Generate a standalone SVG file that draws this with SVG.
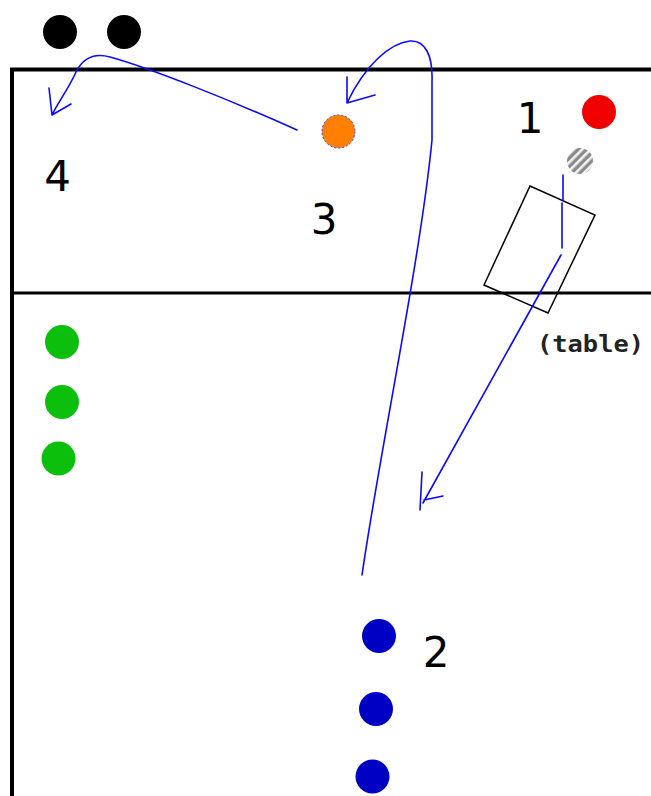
<svg xmlns="http://www.w3.org/2000/svg" width="651" height="796" viewBox="0 0 651 796">
  <style>
    .court { stroke: #000; fill: none; }
    .move { stroke: #0a0aff; stroke-width: 1.6; fill: none; stroke-linecap: round; stroke-linejoin: round; }
    .num { font-family: "DejaVu Sans", sans-serif; font-size: 42px; fill: #000; text-anchor: middle; }
    .lbl { font-family: "DejaVu Sans Mono", monospace; font-size: 23px; font-weight: bold; fill: #222; }
    .black { fill: #000; }
    .green { fill: #0cbf0c; }
    .blue { fill: #0000c4; }
  </style>
  <defs>
    <pattern id="stripes" width="6" height="6" patternUnits="userSpaceOnUse" patternTransform="rotate(-45)">
      <rect width="6" height="6" fill="#8a8a8a"/>
      <rect width="6" height="2.6" fill="#f4f4f4"/>
    </pattern>
  </defs>

  <rect width="651" height="796" fill="#fff"/>

  <g id="court">
    <path class="court" d="M12,796 L12,69.5 L651,69.5" stroke-width="4"/>
    <line class="court" x1="12" y1="293" x2="651" y2="293" stroke-width="3"/>
  </g>

  <g id="table">
    <polygon points="530,186 595,215 548,313 484,285" fill="none" stroke="#000" stroke-width="1.5"/>
    <text class="lbl" x="537" y="352" textLength="107" lengthAdjust="spacingAndGlyphs">(table)</text>
  </g>

  <g id="connectors">
    <path class="move" d="M563,175 L563,200 M562,203 L562,248"/>
    <path class="move" d="M561,255 L423,503 M422,472 L420,510 M424,500 L443,496"/>
    <path class="move" d="M362,575 C380,450 420,262 432,140 L432,82 C433,55 425,40 410,41 C390,43 365,65 347,103 M347,77 L347,103 L375,95"/>
    <path class="move" d="M297,130 C230,100 150,68 110,57 C92,52 82,60 76,72 C68,90 58,102 52,115 M49,88 L52,115 L71,104"/>
  </g>

  <g id="player-4-a"><circle class="black" cx="60" cy="32" r="17"/></g>
  <g id="player-4-b"><circle class="black" cx="124" cy="32" r="17"/></g>
  <g id="label-4"><text class="num" x="57.5" y="191">4</text></g>

  <g id="player-3"><circle cx="338.5" cy="131.5" r="16.5" fill="#ff8000" stroke="#3a3aff" stroke-width="1" stroke-dasharray="2 2"/></g>
  <g id="label-3"><text class="num" x="324" y="234">3</text></g>

  <g id="player-1"><circle cx="599" cy="112" r="17" fill="#f00000"/></g>
  <g id="label-1"><text class="num" x="530" y="133">1</text></g>
  <g id="ball"><circle cx="580" cy="161" r="13" fill="url(#stripes)"/></g>

  <g id="team-green">
    <circle class="green" cx="62" cy="342" r="17"/>
    <circle class="green" cx="62" cy="402" r="17"/>
    <circle class="green" cx="58.5" cy="458.5" r="17"/>
  </g>

  <g id="team-blue">
    <circle class="blue" cx="379" cy="636" r="17"/>
    <circle class="blue" cx="376" cy="709" r="17"/>
    <circle class="blue" cx="372.5" cy="776.5" r="17"/>
  </g>
  <g id="label-2"><text class="num" x="436" y="667">2</text></g>
</svg>
